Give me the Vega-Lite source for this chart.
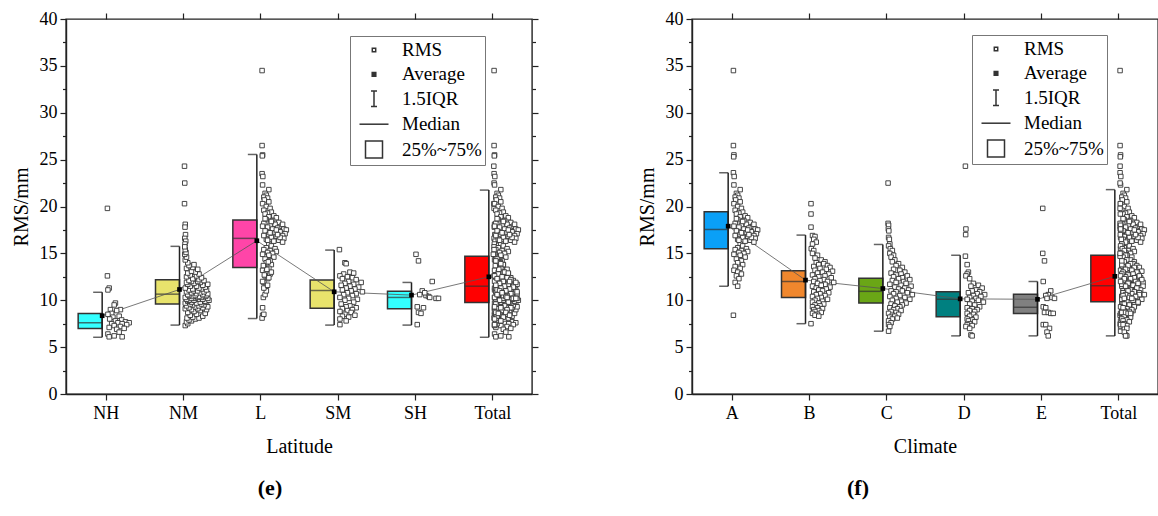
{
"$schema": "https://vega.github.io/schema/vega-lite/v6.json",
"background": "white",
"padding": {"left": 10, "top": 9, "right": 0, "bottom": 4},
"bounds": "flush",
"spacing": 160,
"datasets": {
"ls": [
{"k":1,"g":"NH","q1":7.0,"med":7.6,"q3":8.6,"lo":6.05,"hi":10.85,"mean":8.35},
{"k":2,"g":"NM","q1":9.6,"med":10.65,"q3":12.2,"lo":7.35,"hi":15.75,"mean":11.15},
{"k":3,"g":"L","q1":13.5,"med":16.6,"q3":18.55,"lo":8.05,"hi":25.55,"mean":16.35},
{"k":4,"g":"SM","q1":9.15,"med":11.05,"q3":12.15,"lo":7.35,"hi":15.35,"mean":10.9},
{"k":5,"g":"SH","q1":9.1,"med":10.3,"q3":10.95,"lo":7.35,"hi":11.9,"mean":10.55},
{"k":6,"g":"Total","q1":9.75,"med":11.5,"q3":14.7,"lo":6.05,"hi":21.75,"mean":12.5}
],
"rs": [
{"k":1,"g":"A","q1":15.5,"med":17.55,"q3":19.45,"lo":11.5,"hi":23.6,"mean":17.9},
{"k":2,"g":"B","q1":10.3,"med":12.0,"q3":13.15,"lo":7.5,"hi":16.95,"mean":12.15},
{"k":3,"g":"C","q1":9.7,"med":10.95,"q3":12.35,"lo":6.7,"hi":15.95,"mean":11.25},
{"k":4,"g":"D","q1":8.25,"med":10.1,"q3":10.9,"lo":6.2,"hi":14.8,"mean":10.15},
{"k":5,"g":"E","q1":8.6,"med":9.25,"q3":10.65,"lo":6.2,"hi":12.0,"mean":10.1},
{"k":6,"g":"Total","q1":9.85,"med":11.55,"q3":14.8,"lo":6.2,"hi":21.8,"mean":12.55}
],
"lp": [
{"g":"NH","v":19.8,"j":0.03},{"g":"NH","v":12.6,"j":0.03},{"g":"NH","v":11.3,"j":0.1},{"g":"NH","v":11.1,"j":0.05},{"g":"NH","v":9.7,"j":0.35},{"g":"NH","v":9.5,"j":0.3},{"g":"NH","v":9.0,"j":0.15},{"g":"NH","v":9.0,"j":0.55},{"g":"NH","v":8.9,"j":0.4},{"g":"NH","v":8.6,"j":0.2},{"g":"NH","v":8.5,"j":0.05},{"g":"NH","v":8.3,"j":0.5},{"g":"NH","v":8.2,"j":0.25},{"g":"NH","v":8.0,"j":0.12},{"g":"NH","v":7.9,"j":0.6},{"g":"NH","v":7.8,"j":0.35},{"g":"NH","v":7.7,"j":0.75},{"g":"NH","v":7.6,"j":0.45},{"g":"NH","v":7.6,"j":0.9},{"g":"NH","v":7.5,"j":0.2},{"g":"NH","v":7.5,"j":0.62},{"g":"NH","v":7.4,"j":0.8},{"g":"NH","v":7.3,"j":0.3},{"g":"NH","v":7.2,"j":0.55},{"g":"NH","v":7.1,"j":0.1},{"g":"NH","v":7.0,"j":0.7},{"g":"NH","v":6.9,"j":0.4},{"g":"NH","v":6.6,"j":0.5},{"g":"NH","v":6.4,"j":0.05},{"g":"NH","v":6.2,"j":0.3},{"g":"NH","v":6.1,"j":0.1},{"g":"NH","v":6.1,"j":0.62},
{"g":"NM","v":24.3,"j":0.02},{"g":"NM","v":22.5,"j":0.03},{"g":"NM","v":20.3,"j":0.02},{"g":"NM","v":18.1,"j":0.05},{"g":"NM","v":17.8,"j":0.04},{"g":"NM","v":17.0,"j":0.06},{"g":"NM","v":16.6,"j":0.03},{"g":"NM","v":16.3,"j":0.07},{"g":"NM","v":16.0,"j":0.04},
{"g":"NM","v":7.3,"j":0.05},{"g":"NM","v":7.5,"j":0.15},{"g":"NM","v":7.7,"j":0.1},{"g":"NM","v":7.8,"j":0.3},{"g":"NM","v":7.9,"j":0.2},{"g":"NM","v":8.0,"j":0.45},{"g":"NM","v":8.1,"j":0.12},{"g":"NM","v":8.1,"j":0.6},{"g":"NM","v":8.2,"j":0.35},{"g":"NM","v":8.3,"j":0.75},{"g":"NM","v":8.4,"j":0.25},{"g":"NM","v":8.5,"j":0.5},
{"g":"NM","v":8.6,"j":0.85},{"g":"NM","v":8.7,"j":0.15},{"g":"NM","v":8.8,"j":0.4},{"g":"NM","v":8.9,"j":0.65},{"g":"NM","v":9.0,"j":0.3},{"g":"NM","v":9.0,"j":0.9},{"g":"NM","v":9.1,"j":0.05},{"g":"NM","v":9.1,"j":0.55},{"g":"NM","v":9.2,"j":0.75},{"g":"NM","v":9.2,"j":0.2},{"g":"NM","v":9.3,"j":0.45},{"g":"NM","v":9.3,"j":0.95},{"g":"NM","v":9.4,"j":0.1},{"g":"NM","v":9.4,"j":0.6},{"g":"NM","v":9.5,"j":0.35},{"g":"NM","v":9.5,"j":0.8},{"g":"NM","v":9.6,"j":0.25},
{"g":"NM","v":9.6,"j":0.7},{"g":"NM","v":9.7,"j":0.05},{"g":"NM","v":9.7,"j":0.5},{"g":"NM","v":9.8,"j":0.9},{"g":"NM","v":9.8,"j":0.3},{"g":"NM","v":9.8,"j":0.65},{"g":"NM","v":9.9,"j":0.15},{"g":"NM","v":9.9,"j":0.85},{"g":"NM","v":10.0,"j":0.4},{"g":"NM","v":10.0,"j":1.0},{"g":"NM","v":10.0,"j":0.2},{"g":"NM","v":10.1,"j":0.6},{"g":"NM","v":10.1,"j":0.75},{"g":"NM","v":10.1,"j":0.1},{"g":"NM","v":10.2,"j":0.45},{"g":"NM","v":10.2,"j":0.95},{"g":"NM","v":10.2,"j":0.3},{"g":"NM","v":10.3,"j":0.7},{"g":"NM","v":10.3,"j":0.55},{"g":"NM","v":10.3,"j":0.05},{"g":"NM","v":10.4,"j":0.85},{"g":"NM","v":10.4,"j":0.35},{"g":"NM","v":10.4,"j":0.6},{"g":"NM","v":10.5,"j":0.2},{"g":"NM","v":10.5,"j":0.9},{"g":"NM","v":10.5,"j":0.45},{"g":"NM","v":10.6,"j":0.75},{"g":"NM","v":10.6,"j":0.15},
{"g":"NM","v":10.7,"j":0.5},{"g":"NM","v":10.7,"j":0.95},{"g":"NM","v":10.8,"j":0.3},{"g":"NM","v":10.8,"j":0.65},{"g":"NM","v":10.9,"j":0.1},{"g":"NM","v":10.9,"j":0.8},{"g":"NM","v":11.0,"j":0.4},{"g":"NM","v":11.0,"j":0.55},{"g":"NM","v":11.1,"j":0.2},{"g":"NM","v":11.1,"j":0.9},{"g":"NM","v":11.2,"j":0.35},{"g":"NM","v":11.2,"j":0.7},{"g":"NM","v":11.3,"j":0.05},{"g":"NM","v":11.3,"j":0.6},{"g":"NM","v":11.4,"j":0.85},{"g":"NM","v":11.5,"j":0.25},{"g":"NM","v":11.5,"j":0.5},{"g":"NM","v":11.6,"j":0.75},{"g":"NM","v":11.7,"j":0.15},{"g":"NM","v":11.7,"j":0.95},{"g":"NM","v":11.8,"j":0.4},{"g":"NM","v":11.9,"j":0.65},{"g":"NM","v":11.9,"j":0.1},{"g":"NM","v":12.0,"j":0.55},{"g":"NM","v":12.0,"j":0.3},{"g":"NM","v":12.1,"j":0.8},{"g":"NM","v":12.1,"j":0.2},{"g":"NM","v":12.2,"j":0.6},
{"g":"NM","v":12.3,"j":0.35},{"g":"NM","v":12.4,"j":0.7},{"g":"NM","v":12.5,"j":0.1},{"g":"NM","v":12.6,"j":0.5},{"g":"NM","v":12.7,"j":0.25},{"g":"NM","v":12.8,"j":0.6},{"g":"NM","v":12.9,"j":0.15},{"g":"NM","v":13.0,"j":0.45},{"g":"NM","v":13.1,"j":0.3},{"g":"NM","v":13.3,"j":0.55},{"g":"NM","v":13.4,"j":0.1},{"g":"NM","v":13.5,"j":0.35},{"g":"NM","v":13.7,"j":0.2},{"g":"NM","v":13.8,"j":0.4},{"g":"NM","v":14.0,"j":0.15},
{"g":"NM","v":14.3,"j":0.05},{"g":"NM","v":14.6,"j":0.1},{"g":"NM","v":14.9,"j":0.03},{"g":"NM","v":15.1,"j":0.08},{"g":"NM","v":15.4,"j":0.05},{"g":"NM","v":15.7,"j":0.03},
{"g":"L","v":34.5,"j":0.03},{"g":"L","v":26.5,"j":0.03},{"g":"L","v":25.5,"j":0.05},{"g":"L","v":25.4,"j":0.04},{"g":"L","v":23.5,"j":0.03},{"g":"L","v":23.2,"j":0.06},{"g":"L","v":22.3,"j":0.05},{"g":"L","v":21.8,"j":0.3},{"g":"L","v":21.4,"j":0.15},{"g":"L","v":21.2,"j":0.2},{"g":"L","v":21.0,"j":0.1},{"g":"L","v":20.9,"j":0.25},{"g":"L","v":20.7,"j":0.12},{"g":"L","v":20.5,"j":0.3},{"g":"L","v":20.3,"j":0.05},{"g":"L","v":20.0,"j":0.2},{"g":"L","v":19.8,"j":0.35},{"g":"L","v":19.6,"j":0.1},{"g":"L","v":19.4,"j":0.4},{"g":"L","v":19.3,"j":0.25},{"g":"L","v":19.2,"j":0.15},{"g":"L","v":19.0,"j":0.5},{"g":"L","v":18.9,"j":0.3},{"g":"L","v":18.8,"j":0.6},{"g":"L","v":18.6,"j":0.2},{"g":"L","v":18.5,"j":0.45},{"g":"L","v":18.3,"j":0.7},{"g":"L","v":18.2,"j":0.1},{"g":"L","v":18.1,"j":0.55},{"g":"L","v":18.0,"j":0.35},{"g":"L","v":17.9,"j":0.8},{"g":"L","v":17.8,"j":0.25},{"g":"L","v":17.7,"j":0.65},{"g":"L","v":17.6,"j":0.9},{"g":"L","v":17.6,"j":0.45},{"g":"L","v":17.5,"j":1.0},{"g":"L","v":17.4,"j":0.15},{"g":"L","v":17.3,"j":0.75},{"g":"L","v":17.2,"j":0.55},{"g":"L","v":17.1,"j":0.95},{"g":"L","v":17.0,"j":0.3},{"g":"L","v":16.9,"j":0.85},{"g":"L","v":16.8,"j":0.6},{"g":"L","v":16.7,"j":0.4},{"g":"L","v":16.6,"j":0.9},{"g":"L","v":16.5,"j":0.2},{"g":"L","v":16.4,"j":0.7},{"g":"L","v":16.3,"j":0.5},{"g":"L","v":16.2,"j":0.85},{"g":"L","v":16.0,"j":0.3},{"g":"L","v":18.7,"j":0.15},{"g":"L","v":18.4,"j":0.4},{"g":"L","v":17.9,"j":0.05},{"g":"L","v":17.5,"j":0.6},{"g":"L","v":17.2,"j":0.35},{"g":"L","v":16.9,"j":0.1},{"g":"L","v":16.7,"j":0.75},{"g":"L","v":16.4,"j":0.25},{"g":"L","v":17.0,"j":0.65},{"g":"L","v":18.1,"j":0.85},
{"g":"L","v":15.8,"j":0.4},{"g":"L","v":15.6,"j":0.2},{"g":"L","v":15.5,"j":0.55},{"g":"L","v":15.4,"j":0.1},{"g":"L","v":15.3,"j":0.35},{"g":"L","v":15.2,"j":0.6},{"g":"L","v":15.1,"j":0.25},{"g":"L","v":15.0,"j":0.45},{"g":"L","v":14.9,"j":0.05},{"g":"L","v":14.8,"j":0.3},{"g":"L","v":14.6,"j":0.5},{"g":"L","v":14.4,"j":0.15},{"g":"L","v":14.2,"j":0.35},{"g":"L","v":14.0,"j":0.2},{"g":"L","v":13.8,"j":0.4},{"g":"L","v":13.6,"j":0.1},{"g":"L","v":13.4,"j":0.3},{"g":"L","v":13.2,"j":0.05},{"g":"L","v":13.0,"j":0.2},{"g":"L","v":12.8,"j":0.35},{"g":"L","v":12.6,"j":0.15},{"g":"L","v":12.3,"j":0.25},{"g":"L","v":11.9,"j":0.1},{"g":"L","v":11.5,"j":0.2},{"g":"L","v":8.4,"j":0.05},
{"g":"L","v":8.1,"j":0.03},{"g":"L","v":8.5,"j":0.1},{"g":"L","v":9.2,"j":0.05},{"g":"L","v":10.3,"j":0.08},{"g":"L","v":10.6,"j":0.15},{"g":"L","v":11.0,"j":0.2},{"g":"L","v":11.3,"j":0.1},{"g":"L","v":11.6,"j":0.25},{"g":"L","v":12.0,"j":0.05},{"g":"L","v":12.4,"j":0.3},{"g":"L","v":12.7,"j":0.12},{"g":"L","v":13.0,"j":0.4},{"g":"L","v":13.3,"j":0.22},{"g":"L","v":13.7,"j":0.08},{"g":"L","v":14.1,"j":0.28},
{"g":"SM","v":15.4,"j":0.03},{"g":"SM","v":14.0,"j":0.25},{"g":"SM","v":13.9,"j":0.3},{"g":"SM","v":13.0,"j":0.45},{"g":"SM","v":12.9,"j":0.6},{"g":"SM","v":12.8,"j":0.2},{"g":"SM","v":12.6,"j":0.05},{"g":"SM","v":12.5,"j":0.35},{"g":"SM","v":12.4,"j":0.55},{"g":"SM","v":12.3,"j":0.15},{"g":"SM","v":12.2,"j":0.7},{"g":"SM","v":12.0,"j":0.4},{"g":"SM","v":11.9,"j":0.9},{"g":"SM","v":11.8,"j":0.25},{"g":"SM","v":11.7,"j":0.6},{"g":"SM","v":11.6,"j":0.1},{"g":"SM","v":11.5,"j":0.45},{"g":"SM","v":11.4,"j":0.8},{"g":"SM","v":11.3,"j":0.3},{"g":"SM","v":11.2,"j":0.65},{"g":"SM","v":11.1,"j":0.15},{"g":"SM","v":11.0,"j":0.5},{"g":"SM","v":10.9,"j":0.95},{"g":"SM","v":10.8,"j":0.35},{"g":"SM","v":10.7,"j":0.7},{"g":"SM","v":10.6,"j":0.2},{"g":"SM","v":10.5,"j":0.55},{"g":"SM","v":10.3,"j":0.05},{"g":"SM","v":10.2,"j":0.4},{"g":"SM","v":10.1,"j":0.75},{"g":"SM","v":10.0,"j":0.25},{"g":"SM","v":9.8,"j":0.6},{"g":"SM","v":9.6,"j":0.1},{"g":"SM","v":9.4,"j":0.45},{"g":"SM","v":9.3,"j":0.3},{"g":"SM","v":9.2,"j":0.7},{"g":"SM","v":9.1,"j":0.15},{"g":"SM","v":9.0,"j":0.55},{"g":"SM","v":8.9,"j":0.35},{"g":"SM","v":8.8,"j":0.05},{"g":"SM","v":8.7,"j":0.5},{"g":"SM","v":8.5,"j":0.25},{"g":"SM","v":8.4,"j":0.65},{"g":"SM","v":8.3,"j":0.15},{"g":"SM","v":8.2,"j":0.4},{"g":"SM","v":8.0,"j":0.05},{"g":"SM","v":7.8,"j":0.3},{"g":"SM","v":7.4,"j":0.05},
{"g":"SH","v":14.9,"j":0.0},{"g":"SH","v":14.2,"j":0.1},{"g":"SH","v":12.0,"j":0.65},{"g":"SH","v":11.0,"j":0.25},{"g":"SH","v":10.6,"j":0.15},{"g":"SH","v":10.5,"j":0.4},{"g":"SH","v":10.4,"j":0.5},{"g":"SH","v":10.3,"j":0.55},{"g":"SH","v":10.2,"j":0.8},{"g":"SH","v":10.2,"j":0.9},{"g":"SH","v":9.3,"j":0.05},{"g":"SH","v":9.2,"j":0.3},{"g":"SH","v":8.7,"j":0.1},{"g":"SH","v":8.6,"j":0.2},{"g":"SH","v":7.4,"j":0.05},{"g":"SH","v":10.8,"j":0.35}
],
"rp": [
{"g":"A","v":34.5,"j":0.03},{"g":"A","v":26.5,"j":0.03},{"g":"A","v":25.5,"j":0.05},{"g":"A","v":25.3,"j":0.04},{"g":"A","v":8.4,"j":0.03},{"g":"A","v":23.6,"j":0.03},{"g":"A","v":23.2,"j":0.06},{"g":"A","v":22.3,"j":0.05},{"g":"A","v":21.8,"j":0.3},{"g":"A","v":21.4,"j":0.15},{"g":"A","v":21.2,"j":0.2},{"g":"A","v":21.0,"j":0.1},{"g":"A","v":20.9,"j":0.25},{"g":"A","v":20.7,"j":0.12},{"g":"A","v":20.5,"j":0.3},{"g":"A","v":20.3,"j":0.05},{"g":"A","v":20.0,"j":0.2},{"g":"A","v":19.8,"j":0.35},{"g":"A","v":19.6,"j":0.1},{"g":"A","v":19.4,"j":0.4},{"g":"A","v":19.3,"j":0.25},{"g":"A","v":19.2,"j":0.15},{"g":"A","v":19.0,"j":0.5},{"g":"A","v":18.9,"j":0.3},{"g":"A","v":18.8,"j":0.6},{"g":"A","v":18.6,"j":0.2},{"g":"A","v":18.5,"j":0.45},{"g":"A","v":18.3,"j":0.7},{"g":"A","v":18.2,"j":0.1},{"g":"A","v":18.1,"j":0.55},{"g":"A","v":18.0,"j":0.35},{"g":"A","v":17.9,"j":0.8},{"g":"A","v":17.8,"j":0.25},{"g":"A","v":17.7,"j":0.65},{"g":"A","v":17.6,"j":0.9},{"g":"A","v":17.6,"j":0.45},{"g":"A","v":17.5,"j":1.0},{"g":"A","v":17.4,"j":0.15},{"g":"A","v":17.3,"j":0.75},{"g":"A","v":17.2,"j":0.55},{"g":"A","v":17.1,"j":0.95},{"g":"A","v":17.0,"j":0.3},{"g":"A","v":16.9,"j":0.85},{"g":"A","v":16.8,"j":0.6},{"g":"A","v":16.7,"j":0.4},{"g":"A","v":16.6,"j":0.9},{"g":"A","v":16.5,"j":0.2},{"g":"A","v":16.4,"j":0.7},{"g":"A","v":16.3,"j":0.5},{"g":"A","v":16.2,"j":0.85},{"g":"A","v":16.0,"j":0.3},{"g":"A","v":18.7,"j":0.15},{"g":"A","v":18.4,"j":0.4},{"g":"A","v":17.9,"j":0.05},{"g":"A","v":17.5,"j":0.6},{"g":"A","v":17.2,"j":0.35},{"g":"A","v":16.9,"j":0.1},{"g":"A","v":16.7,"j":0.75},{"g":"A","v":16.4,"j":0.25},{"g":"A","v":17.0,"j":0.65},{"g":"A","v":18.1,"j":0.85},
{"g":"A","v":15.8,"j":0.4},{"g":"A","v":15.6,"j":0.2},{"g":"A","v":15.5,"j":0.55},{"g":"A","v":15.4,"j":0.1},{"g":"A","v":15.3,"j":0.35},{"g":"A","v":15.2,"j":0.6},{"g":"A","v":15.1,"j":0.25},{"g":"A","v":15.0,"j":0.45},{"g":"A","v":14.9,"j":0.05},{"g":"A","v":14.8,"j":0.3},{"g":"A","v":14.6,"j":0.5},{"g":"A","v":14.4,"j":0.15},{"g":"A","v":14.2,"j":0.35},{"g":"A","v":14.0,"j":0.2},{"g":"A","v":13.8,"j":0.4},{"g":"A","v":13.6,"j":0.1},{"g":"A","v":13.4,"j":0.3},{"g":"A","v":13.2,"j":0.05},{"g":"A","v":13.0,"j":0.2},{"g":"A","v":12.8,"j":0.35},{"g":"A","v":12.6,"j":0.15},{"g":"A","v":12.3,"j":0.25},{"g":"A","v":11.9,"j":0.1},{"g":"A","v":11.5,"j":0.2},
{"g":"B","v":20.3,"j":0.04},{"g":"B","v":19.2,"j":0.04},{"g":"B","v":17.8,"j":0.04},{"g":"B","v":16.9,"j":0.1},{"g":"B","v":16.8,"j":0.2},{"g":"B","v":16.5,"j":0.15},{"g":"B","v":16.2,"j":0.25},{"g":"B","v":16.0,"j":0.1},{"g":"B","v":15.5,"j":0.05},{"g":"B","v":15.3,"j":0.15},{"g":"B","v":15.0,"j":0.1},{"g":"B","v":14.8,"j":0.3},{"g":"B","v":14.5,"j":0.2},{"g":"B","v":14.3,"j":0.45},{"g":"B","v":14.1,"j":0.6},{"g":"B","v":14.0,"j":0.25},{"g":"B","v":13.9,"j":0.55},{"g":"B","v":13.8,"j":0.35},{"g":"B","v":13.7,"j":0.7},{"g":"B","v":13.6,"j":0.15},{"g":"B","v":13.5,"j":0.8},{"g":"B","v":13.4,"j":0.4},{"g":"B","v":13.3,"j":0.65},{"g":"B","v":13.2,"j":0.2},{"g":"B","v":13.1,"j":0.9},{"g":"B","v":13.0,"j":0.5},{"g":"B","v":12.9,"j":0.3},{"g":"B","v":12.8,"j":0.75},{"g":"B","v":12.7,"j":0.1},{"g":"B","v":12.6,"j":0.6},{"g":"B","v":12.5,"j":0.35},{"g":"B","v":12.4,"j":0.85},{"g":"B","v":12.3,"j":0.2},{"g":"B","v":12.2,"j":0.55},{"g":"B","v":12.1,"j":0.4},{"g":"B","v":12.0,"j":0.7},{"g":"B","v":12.0,"j":0.15},{"g":"B","v":11.9,"j":0.95},{"g":"B","v":11.8,"j":0.3},{"g":"B","v":11.7,"j":0.6},{"g":"B","v":11.6,"j":0.45},{"g":"B","v":11.5,"j":0.1},{"g":"B","v":11.4,"j":0.8},{"g":"B","v":11.3,"j":0.25},{"g":"B","v":11.2,"j":0.65},{"g":"B","v":11.1,"j":0.35},{"g":"B","v":11.0,"j":0.5},{"g":"B","v":10.9,"j":0.15},{"g":"B","v":10.8,"j":0.75},{"g":"B","v":10.7,"j":0.4},{"g":"B","v":10.6,"j":0.25},{"g":"B","v":10.5,"j":0.6},{"g":"B","v":10.4,"j":0.1},{"g":"B","v":10.3,"j":0.45},{"g":"B","v":10.2,"j":0.3},{"g":"B","v":10.1,"j":0.7},{"g":"B","v":10.0,"j":0.2},{"g":"B","v":9.9,"j":0.5},{"g":"B","v":9.8,"j":0.1},{"g":"B","v":9.7,"j":0.35},{"g":"B","v":9.6,"j":0.55},{"g":"B","v":9.5,"j":0.2},{"g":"B","v":9.4,"j":0.4},{"g":"B","v":9.3,"j":0.1},{"g":"B","v":9.2,"j":0.3},{"g":"B","v":9.1,"j":0.5},{"g":"B","v":9.0,"j":0.15},{"g":"B","v":8.9,"j":0.35},{"g":"B","v":8.8,"j":0.2},{"g":"B","v":8.7,"j":0.45},{"g":"B","v":8.6,"j":0.1},{"g":"B","v":8.5,"j":0.3},{"g":"B","v":8.4,"j":0.2},{"g":"B","v":8.3,"j":0.35},{"g":"B","v":7.5,"j":0.04},
{"g":"C","v":22.5,"j":0.03},{"g":"C","v":18.2,"j":0.03},{"g":"C","v":18.0,"j":0.05},{"g":"C","v":17.6,"j":0.04},{"g":"C","v":17.4,"j":0.06},{"g":"C","v":16.7,"j":0.05},{"g":"C","v":16.5,"j":0.08},{"g":"C","v":16.0,"j":0.1},{"g":"C","v":15.8,"j":0.05},{"g":"C","v":15.5,"j":0.12},{"g":"C","v":15.3,"j":0.2},{"g":"C","v":15.0,"j":0.1},{"g":"C","v":14.8,"j":0.25},{"g":"C","v":14.6,"j":0.15},{"g":"C","v":14.3,"j":0.3},{"g":"C","v":14.1,"j":0.2},{"g":"C","v":13.9,"j":0.45},{"g":"C","v":13.7,"j":0.35},{"g":"C","v":13.5,"j":0.6},{"g":"C","v":13.3,"j":0.25},{"g":"C","v":13.2,"j":0.5},{"g":"C","v":13.0,"j":0.7},{"g":"C","v":12.9,"j":0.15},{"g":"C","v":12.8,"j":0.55},{"g":"C","v":12.7,"j":0.35},{"g":"C","v":12.6,"j":0.8},{"g":"C","v":12.5,"j":0.25},{"g":"C","v":12.4,"j":0.6},{"g":"C","v":12.3,"j":0.45},{"g":"C","v":12.2,"j":0.9},{"g":"C","v":12.1,"j":0.2},{"g":"C","v":12.0,"j":0.65},{"g":"C","v":11.9,"j":0.35},{"g":"C","v":11.8,"j":0.75},{"g":"C","v":11.7,"j":0.1},{"g":"C","v":11.6,"j":0.55},{"g":"C","v":11.5,"j":0.95},{"g":"C","v":11.4,"j":0.3},{"g":"C","v":11.3,"j":0.7},{"g":"C","v":11.2,"j":0.45},{"g":"C","v":11.1,"j":0.85},{"g":"C","v":11.0,"j":0.15},{"g":"C","v":11.0,"j":0.6},{"g":"C","v":10.9,"j":0.35},{"g":"C","v":10.8,"j":0.8},{"g":"C","v":10.7,"j":0.25},{"g":"C","v":10.6,"j":1.0},{"g":"C","v":10.5,"j":0.5},{"g":"C","v":10.4,"j":0.1},{"g":"C","v":10.3,"j":0.7},{"g":"C","v":10.2,"j":0.35},{"g":"C","v":10.1,"j":0.9},{"g":"C","v":10.0,"j":0.2},{"g":"C","v":9.9,"j":0.55},{"g":"C","v":9.8,"j":0.4},{"g":"C","v":9.7,"j":0.75},{"g":"C","v":9.6,"j":0.15},{"g":"C","v":9.5,"j":0.6},{"g":"C","v":9.4,"j":0.3},{"g":"C","v":9.3,"j":0.5},{"g":"C","v":9.2,"j":0.1},{"g":"C","v":9.1,"j":0.4},{"g":"C","v":9.0,"j":0.25},{"g":"C","v":8.9,"j":0.55},{"g":"C","v":8.8,"j":0.15},{"g":"C","v":8.7,"j":0.35},{"g":"C","v":8.6,"j":0.05},{"g":"C","v":8.5,"j":0.45},{"g":"C","v":8.4,"j":0.2},{"g":"C","v":8.3,"j":0.3},{"g":"C","v":8.2,"j":0.1},{"g":"C","v":8.1,"j":0.4},{"g":"C","v":8.0,"j":0.2},{"g":"C","v":7.8,"j":0.05},{"g":"C","v":7.6,"j":0.15},{"g":"C","v":7.4,"j":0.05},{"g":"C","v":7.2,"j":0.1},{"g":"C","v":6.7,"j":0.05},
{"g":"D","v":24.3,"j":0.03},{"g":"D","v":17.6,"j":0.05},{"g":"D","v":17.0,"j":0.04},{"g":"D","v":14.7,"j":0.03},{"g":"D","v":13.8,"j":0.1},{"g":"D","v":13.0,"j":0.15},{"g":"D","v":12.8,"j":0.1},{"g":"D","v":12.6,"j":0.05},{"g":"D","v":12.3,"j":0.2},{"g":"D","v":11.8,"j":0.35},{"g":"D","v":11.6,"j":0.55},{"g":"D","v":11.5,"j":0.25},{"g":"D","v":11.3,"j":0.7},{"g":"D","v":11.1,"j":0.45},{"g":"D","v":11.0,"j":0.3},{"g":"D","v":10.9,"j":0.6},{"g":"D","v":10.8,"j":0.15},{"g":"D","v":10.7,"j":0.5},{"g":"D","v":10.6,"j":0.8},{"g":"D","v":10.5,"j":0.35},{"g":"D","v":10.4,"j":0.65},{"g":"D","v":10.3,"j":0.2},{"g":"D","v":10.2,"j":0.45},{"g":"D","v":10.1,"j":0.1},{"g":"D","v":10.0,"j":0.55},{"g":"D","v":9.9,"j":0.3},{"g":"D","v":9.8,"j":0.75},{"g":"D","v":9.6,"j":0.2},{"g":"D","v":9.5,"j":0.4},{"g":"D","v":9.3,"j":0.6},{"g":"D","v":9.2,"j":0.1},{"g":"D","v":9.1,"j":0.3},{"g":"D","v":9.0,"j":0.5},{"g":"D","v":8.9,"j":0.2},{"g":"D","v":8.8,"j":0.4},{"g":"D","v":8.6,"j":0.1},{"g":"D","v":8.5,"j":0.35},{"g":"D","v":8.3,"j":0.2},{"g":"D","v":8.2,"j":0.45},{"g":"D","v":8.0,"j":0.1},{"g":"D","v":7.9,"j":0.3},{"g":"D","v":7.8,"j":0.15},{"g":"D","v":7.7,"j":0.4},{"g":"D","v":7.5,"j":0.2},{"g":"D","v":7.4,"j":0.1},{"g":"D","v":7.3,"j":0.3},{"g":"D","v":7.2,"j":0.05},{"g":"D","v":7.0,"j":0.2},{"g":"D","v":6.3,"j":0.25},{"g":"D","v":6.2,"j":0.3},
{"g":"E","v":19.8,"j":0.03},{"g":"E","v":15.0,"j":0.03},{"g":"E","v":14.2,"j":0.1},{"g":"E","v":12.0,"j":0.05},{"g":"E","v":11.0,"j":0.35},{"g":"E","v":10.6,"j":0.25},{"g":"E","v":10.5,"j":0.15},{"g":"E","v":10.3,"j":0.4},{"g":"E","v":10.2,"j":0.5},{"g":"E","v":10.2,"j":0.2},{"g":"E","v":9.3,"j":0.05},{"g":"E","v":9.2,"j":0.15},{"g":"E","v":8.7,"j":0.1},{"g":"E","v":8.7,"j":0.25},{"g":"E","v":8.6,"j":0.35},{"g":"E","v":8.6,"j":0.45},{"g":"E","v":7.4,"j":0.05},{"g":"E","v":7.4,"j":0.15},{"g":"E","v":7.0,"j":0.3},{"g":"E","v":6.6,"j":0.2},{"g":"E","v":6.2,"j":0.25}
]
},
"hconcat": [
{
"width": 466, "height": 375,
"title": {"text": "(e)", "orient": "bottom", "anchor": "middle", "dx": -29, "offset": 22},
"layer": [
{"data": {"name": "ls"},
 "mark": {"type": "bar", "width": 24, "xOffset": -15.5, "stroke": "#333", "strokeWidth": 1.5},
 "encoding": {
  "x": {"field": "g", "type": "nominal", "scale": {"type": "point", "domain": ["NH","NM","L","SM","SH","Total"], "padding": 0.513}, "axis": {"orient": "bottom", "title": "Latitude", "labelAngle": 0, "tickSize": 6, "labelPadding": 4, "titlePadding": 14}},
  "y": {"field": "q1", "type": "quantitative", "scale": {"domain": [0, 40], "nice": false}, "axis": {"orient": "left", "title": "RMS/mm", "values": [0,2.5,5,7.5,10,12.5,15,17.5,20,22.5,25,27.5,30,32.5,35,37.5,40], "labelExpr": "datum.value % 5 === 0 ? datum.label : ''", "tickSize": {"condition": {"test": "datum.value % 5 === 0", "value": 6}, "value": 3.5}, "labelPadding": 3, "titlePadding": 8}},
  "y2": {"field": "q3"},
  "fill": {"field": "g", "type": "nominal", "scale": {"domain": ["NH","NM","L","SM","SH","Total"], "range": ["#33FFFF","#E8E36C","#FF45A8","#E8E36C","#33FFFF","#FF0000"]}, "legend": null}
 }},
{"data": {"name": "ls"},
 "mark": {"type": "tick", "size": 24, "xOffset": -15.5, "thickness": 1.5, "color": "#333"},
 "encoding": {
  "x": {"field": "g", "type": "nominal", "axis": {"orient": "top", "title": null, "labels": false, "domain": false, "tickSize": 6}},
  "y": {"field": "med", "type": "quantitative", "axis": {"orient": "right", "title": null, "labels": false, "domain": false, "values": [0,2.5,5,7.5,10,12.5,15,17.5,20,22.5,25,27.5,30,32.5,35,37.5,40], "tickSize": {"condition": {"test": "datum.value % 5 === 0", "value": 6}, "value": 3.5}}}
 }},
{"data": {"name": "ls"},
 "mark": {"type": "rule", "xOffset": -3.5, "color": "#222", "strokeWidth": 1.5},
 "encoding": {"x": {"field": "g", "type": "nominal", "axis": null}, "y": {"field": "lo", "type": "quantitative", "axis": null}, "y2": {"field": "hi"}}},
{"data": {"name": "ls"},
 "mark": {"type": "tick", "size": 9, "xOffset": -8, "thickness": 1.5, "color": "#222"},
 "encoding": {"x": {"field": "g", "type": "nominal", "axis": null}, "y": {"field": "hi", "type": "quantitative", "axis": null}}},
{"data": {"name": "ls"},
 "mark": {"type": "tick", "size": 9, "xOffset": -8, "thickness": 1.5, "color": "#222"},
 "encoding": {"x": {"field": "g", "type": "nominal", "axis": null}, "y": {"field": "lo", "type": "quantitative", "axis": null}}},
{"data": {"name": "ls"},
 "mark": {"type": "line", "xOffset": -3.5, "color": "#555", "strokeWidth": 0.8},
 "encoding": {"x": {"field": "g", "type": "nominal", "axis": null}, "y": {"field": "mean", "type": "quantitative", "axis": null}, "order": {"field": "k", "type": "quantitative"}}},
{"data": {"name": "lp"},
 "mark": {"type": "point", "size": 700, "fill": "white", "stroke": "#333", "strokeWidth": 0.9, "opacity": 1, "filled": false, "fillOpacity": 1},
 "encoding": {
  "x": {"field": "g", "type": "nominal", "axis": null},
  "xOffset": {"field": "j", "type": "quantitative", "scale": {"domain": [0, 1], "range": [1, 26]}},
  "y": {"field": "v", "type": "quantitative", "axis": null},
  "shape": {"datum": "RMS", "type": "nominal", "scale": {"domain": ["RMS","Average","1.5IQR","Median","25%~75%"], "range": ["M-0.17,-0.17H0.17V0.17H-0.17Z","M-0.18,-0.18H0.18V0.18H-0.18ZM-0.18,-0.09H0.18M-0.18,0H0.18M-0.18,0.09H0.18","M-0.3,-0.78H0.3M0,-0.78V0.78M-0.3,0.78H0.3","M-1.45,0H1.45","M-0.85,-0.85H0.85V0.85H-0.85Z"]},
   "legend": {"title": null, "orient": "none", "legendX": 284, "legendY": 17, "symbolSize": 400, "rowPadding": 3.4, "symbolOffset": 10, "labelOffset": 17, "encode": {"symbols": {"update": {"fill": {"value": "#fff"}, "stroke": {"value": "#111"}, "strokeWidth": {"value": 1.2}, "size": {"value": 400}}}}}}
 }},
{"data": {"name": "lp"},
 "mark": {"type": "point", "size": 700, "fill": "white", "stroke": "#333", "strokeWidth": 0.9, "opacity": 1, "filled": false, "fillOpacity": 1},
 "encoding": {
  "x": {"datum": "Total", "type": "nominal", "axis": null},
  "xOffset": {"field": "j", "type": "quantitative", "scale": {"domain": [0, 1], "range": [1, 26]}},
  "y": {"field": "v", "type": "quantitative", "axis": null},
  "shape": {"datum": "RMS", "type": "nominal",
   "legend": {"title": null, "orient": "none", "legendX": 284, "legendY": 17, "symbolSize": 400, "rowPadding": 3.4, "symbolOffset": 10, "labelOffset": 17, "encode": {"symbols": {"update": {"fill": {"value": "#fff"}, "stroke": {"value": "#111"}, "strokeWidth": {"value": 1.2}, "size": {"value": 400}}}}}}
 }},
{"data": {"name": "ls"},
 "mark": {"type": "square", "size": 22, "xOffset": -3.5, "color": "#000", "opacity": 1},
 "encoding": {"x": {"field": "g", "type": "nominal", "axis": null}, "y": {"field": "mean", "type": "quantitative", "axis": null}}}
]
},
{
"width": 466, "height": 375,
"title": {"text": "(f)", "orient": "bottom", "anchor": "middle", "dx": -67, "offset": 22},
"layer": [
{"data": {"name": "rs"},
 "mark": {"type": "bar", "width": 24, "xOffset": -15.5, "stroke": "#333", "strokeWidth": 1.5},
 "encoding": {
  "x": {"field": "g", "type": "nominal", "scale": {"type": "point", "domain": ["A","B","C","D","E","Total"], "padding": 0.513}, "axis": {"orient": "bottom", "title": "Climate", "labelAngle": 0, "tickSize": 6, "labelPadding": 4, "titlePadding": 14}},
  "y": {"field": "q1", "type": "quantitative", "scale": {"domain": [0, 40], "nice": false}, "axis": {"orient": "left", "title": "RMS/mm", "values": [0,2.5,5,7.5,10,12.5,15,17.5,20,22.5,25,27.5,30,32.5,35,37.5,40], "labelExpr": "datum.value % 5 === 0 ? datum.label : ''", "tickSize": {"condition": {"test": "datum.value % 5 === 0", "value": 6}, "value": 3.5}, "labelPadding": 3, "titlePadding": 8}},
  "y2": {"field": "q3"},
  "fill": {"field": "g", "type": "nominal", "scale": {"domain": ["A","B","C","D","E","Total"], "range": ["#0AA0F7","#F0872D","#6AA616","#008080","#808080","#FF0000"]}, "legend": null}
 }},
{"data": {"name": "rs"},
 "mark": {"type": "tick", "size": 24, "xOffset": -15.5, "thickness": 1.5, "color": "#333"},
 "encoding": {
  "x": {"field": "g", "type": "nominal", "axis": {"orient": "top", "title": null, "labels": false, "domain": false, "tickSize": 6}},
  "y": {"field": "med", "type": "quantitative", "axis": {"orient": "right", "title": null, "labels": false, "domain": false, "values": [0,2.5,5,7.5,10,12.5,15,17.5,20,22.5,25,27.5,30,32.5,35,37.5,40], "tickSize": {"condition": {"test": "datum.value % 5 === 0", "value": 6}, "value": 3.5}}}
 }},
{"data": {"name": "rs"},
 "mark": {"type": "rule", "xOffset": -3.5, "color": "#222", "strokeWidth": 1.5},
 "encoding": {"x": {"field": "g", "type": "nominal", "axis": null}, "y": {"field": "lo", "type": "quantitative", "axis": null}, "y2": {"field": "hi"}}},
{"data": {"name": "rs"},
 "mark": {"type": "tick", "size": 9, "xOffset": -8, "thickness": 1.5, "color": "#222"},
 "encoding": {"x": {"field": "g", "type": "nominal", "axis": null}, "y": {"field": "hi", "type": "quantitative", "axis": null}}},
{"data": {"name": "rs"},
 "mark": {"type": "tick", "size": 9, "xOffset": -8, "thickness": 1.5, "color": "#222"},
 "encoding": {"x": {"field": "g", "type": "nominal", "axis": null}, "y": {"field": "lo", "type": "quantitative", "axis": null}}},
{"data": {"name": "rs"},
 "mark": {"type": "line", "xOffset": -3.5, "color": "#555", "strokeWidth": 0.8},
 "encoding": {"x": {"field": "g", "type": "nominal", "axis": null}, "y": {"field": "mean", "type": "quantitative", "axis": null}, "order": {"field": "k", "type": "quantitative"}}},
{"data": {"name": "rp"},
 "mark": {"type": "point", "size": 700, "fill": "white", "stroke": "#333", "strokeWidth": 0.9, "opacity": 1, "filled": false, "fillOpacity": 1},
 "encoding": {
  "x": {"field": "g", "type": "nominal", "axis": null},
  "xOffset": {"field": "j", "type": "quantitative", "scale": {"domain": [0, 1], "range": [1, 26]}},
  "y": {"field": "v", "type": "quantitative", "axis": null},
  "shape": {"datum": "RMS", "type": "nominal", "scale": {"domain": ["RMS","Average","1.5IQR","Median","25%~75%"], "range": ["M-0.17,-0.17H0.17V0.17H-0.17Z","M-0.18,-0.18H0.18V0.18H-0.18ZM-0.18,-0.09H0.18M-0.18,0H0.18M-0.18,0.09H0.18","M-0.3,-0.78H0.3M0,-0.78V0.78M-0.3,0.78H0.3","M-1.45,0H1.45","M-0.85,-0.85H0.85V0.85H-0.85Z"]},
   "legend": {"title": null, "orient": "none", "legendX": 280, "legendY": 16, "symbolSize": 400, "rowPadding": 3.4, "symbolOffset": 10, "labelOffset": 17, "encode": {"symbols": {"update": {"fill": {"value": "#fff"}, "stroke": {"value": "#111"}, "strokeWidth": {"value": 1.2}, "size": {"value": 400}}}}}}
 }},
{"data": {"name": "rp"},
 "mark": {"type": "point", "size": 700, "fill": "white", "stroke": "#333", "strokeWidth": 0.9, "opacity": 1, "filled": false, "fillOpacity": 1},
 "encoding": {
  "x": {"datum": "Total", "type": "nominal", "axis": null},
  "xOffset": {"field": "j", "type": "quantitative", "scale": {"domain": [0, 1], "range": [1, 26]}},
  "y": {"field": "v", "type": "quantitative", "axis": null},
  "shape": {"datum": "RMS", "type": "nominal",
   "legend": {"title": null, "orient": "none", "legendX": 280, "legendY": 16, "symbolSize": 400, "rowPadding": 3.4, "symbolOffset": 10, "labelOffset": 17, "encode": {"symbols": {"update": {"fill": {"value": "#fff"}, "stroke": {"value": "#111"}, "strokeWidth": {"value": 1.2}, "size": {"value": 400}}}}}}
 }},
{"data": {"name": "rs"},
 "mark": {"type": "square", "size": 22, "xOffset": -3.5, "color": "#000", "opacity": 1},
 "encoding": {"x": {"field": "g", "type": "nominal", "axis": null}, "y": {"field": "mean", "type": "quantitative", "axis": null}}}
]
}
],
"resolve": {"scale": {"x": "independent", "y": "independent", "fill": "independent", "shape": "independent"}, "legend": {"shape": "independent"}},
"config": {
 "font": "Liberation Serif",
 "view": {"stroke": "#222", "strokeWidth": 1.4},
 "axis": {"labelFont": "Liberation Serif", "titleFont": "Liberation Serif", "labelColor": "#000", "titleColor": "#000", "tickColor": "#222", "domainColor": "#222", "domainWidth": 1.4, "tickWidth": 1.2, "labelFontSize": 18, "titleFontSize": 20, "titleFontWeight": "normal", "grid": false},
 "legend": {"labelFont": "Liberation Serif", "labelFontSize": 19, "labelColor": "#000", "padding": 3, "strokeColor": "#777", "fillColor": "white"},
 "title": {"font": "Liberation Serif", "fontSize": 22, "fontWeight": "bold", "color": "#000"}
}
}
